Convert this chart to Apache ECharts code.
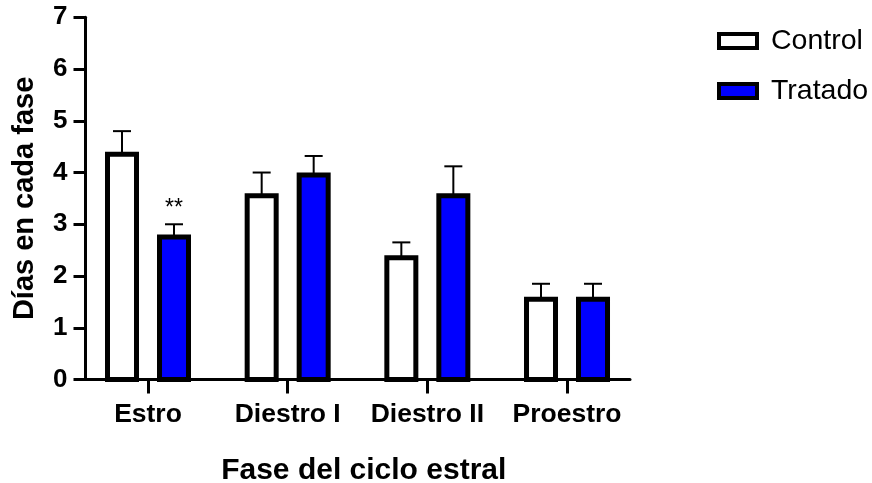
<!DOCTYPE html>
<html>
<head>
<meta charset="utf-8">
<script src="https://cdn.jsdelivr.net/npm/echarts@6/dist/echarts.min.js"></script>
<style>
  html, body { margin: 0; padding: 0; background: #fff; }
  #chart { width: 872px; height: 483px; }
</style>
</head>
<body>
<div id="chart"></div>
<script>
// Fases del ciclo estral y días (media + error) por grupo
const categories = ['Estro', 'Diestro I', 'Diestro II', 'Proestro'];
const controlMean = [4.4, 3.6, 2.4, 1.6];
const controlErr = [0.4, 0.4, 0.25, 0.25];
const tratadoMean = [2.8, 4.0, 3.6, 1.6];
const tratadoErr = [0.2, 0.32, 0.52, 0.25];
const tratadoSig = ['**', '', '', ''];
const yTicks = [0, 1, 2, 3, 4, 5, 6, 7];

const FONT = '"Liberation Sans", Arial, sans-serif';

function rows(means, errs) {
  return means.map((m, i) => [i, m, errs[i]]);
}

// Draws a bordered bar (border kept inside the bar) with an upward error bar
function makeRenderer(offset, fill, sig) {
  return function (params, api) {
    const i = api.value(0);
    const m = api.value(1);
    const e = api.value(2);
    const base = api.coord([i, 0]);
    const top = api.coord([i, m]);
    const errTop = api.coord([i, m + e]);
    const cx = base[0] + offset;
    const w = 34, bw = 5, cap = 9;
    const children = [
      {
        type: 'line',
        shape: { x1: cx, y1: top[1] + bw, x2: cx, y2: errTop[1] },
        style: { stroke: '#000', lineWidth: 2 }
      },
      {
        type: 'line',
        shape: { x1: cx - cap, y1: errTop[1], x2: cx + cap, y2: errTop[1] },
        style: { stroke: '#000', lineWidth: 2 }
      },
      {
        type: 'rect',
        shape: {
          x: cx - w / 2 + bw / 2,
          y: top[1] + bw / 2,
          width: w - bw,
          height: base[1] - top[1] - bw / 2
        },
        style: { fill: fill, stroke: '#000', lineWidth: bw }
      }
    ];
    if (sig && sig[i]) {
      children.push({
        type: 'text',
        style: {
          text: sig[i],
          x: cx,
          y: errTop[1] - 4,
          align: 'center',
          verticalAlign: 'bottom',
          font: '23px ' + FONT,
          fill: '#000'
        }
      });
    }
    return { type: 'group', children: children };
  };
}

const chart = echarts.init(document.getElementById('chart'), null, { renderer: 'canvas' });

chart.setOption({
  animation: false,
  backgroundColor: '#fff',
  grid: {
    left: 85.5, right: 242, top: 17.3, bottom: 103.5,
    containLabel: false, outerBoundsMode: 'none'
  },
  legend: {
    orient: 'vertical',
    left: 712,
    top: 21,
    itemWidth: 38,
    itemHeight: 14,
    itemGap: 20,
    icon: 'rect',
    textStyle: { fontFamily: FONT, fontSize: 28.5, color: '#000', padding: [0, 0, 0, 9], lineHeight: 30 },
    data: [
      { name: 'Control', itemStyle: { color: '#fff', borderColor: '#000', borderWidth: 4 } },
      { name: 'Tratado', itemStyle: { color: '#0000ff', borderColor: '#000', borderWidth: 4 } }
    ]
  },
  xAxis: {
    type: 'value',
    min: -0.4475,
    max: 3.451,
    name: 'Fase del ciclo estral',
    nameLocation: 'middle',
    nameGap: 76,
    nameTextStyle: { fontFamily: FONT, fontSize: 30, fontWeight: 'bold', color: '#000', padding: [0, 0, 0, 12] },
    splitLine: { show: false },
    axisLine: { onZero: false, lineStyle: { color: '#000', width: 3 } },
    axisTick: { length: 14, lineStyle: { color: '#000', width: 3 }, customValues: [0, 1, 2, 3] },
    axisLabel: {
      customValues: [0, 1, 2, 3],
      formatter: v => categories[v],
      fontFamily: FONT, fontSize: 26.5, fontWeight: 'bold', color: '#000', margin: 22
    }
  },
  yAxis: {
    type: 'value',
    min: 0,
    max: 7,
    interval: 1,
    name: 'Días en cada fase',
    nameLocation: 'middle',
    nameGap: 46,
    nameTextStyle: { fontFamily: FONT, fontSize: 29, fontWeight: 'bold', color: '#000' },
    splitLine: { show: false },
    axisLine: { show: true, onZero: false, lineStyle: { color: '#000', width: 3 } },
    axisTick: { show: true, length: 12, lineStyle: { color: '#000', width: 3 } },
    axisLabel: {
      formatter: v => (yTicks.indexOf(v) >= 0 ? String(v) : ''),
      fontFamily: FONT, fontSize: 26, fontWeight: 'bold', color: '#000', margin: 18
    }
  },
  series: [
    {
      name: 'Control',
      type: 'custom',
      itemStyle: { color: '#fff' },
      renderItem: makeRenderer(-26, '#fff', null),
      encode: { x: 0, y: [1, 2] },
      data: rows(controlMean, controlErr)
    },
    {
      name: 'Tratado',
      type: 'custom',
      itemStyle: { color: '#0000ff' },
      renderItem: makeRenderer(26, '#0000ff', tratadoSig),
      encode: { x: 0, y: [1, 2] },
      data: rows(tratadoMean, tratadoErr)
    }
  ]
});
</script>
</body>
</html>
